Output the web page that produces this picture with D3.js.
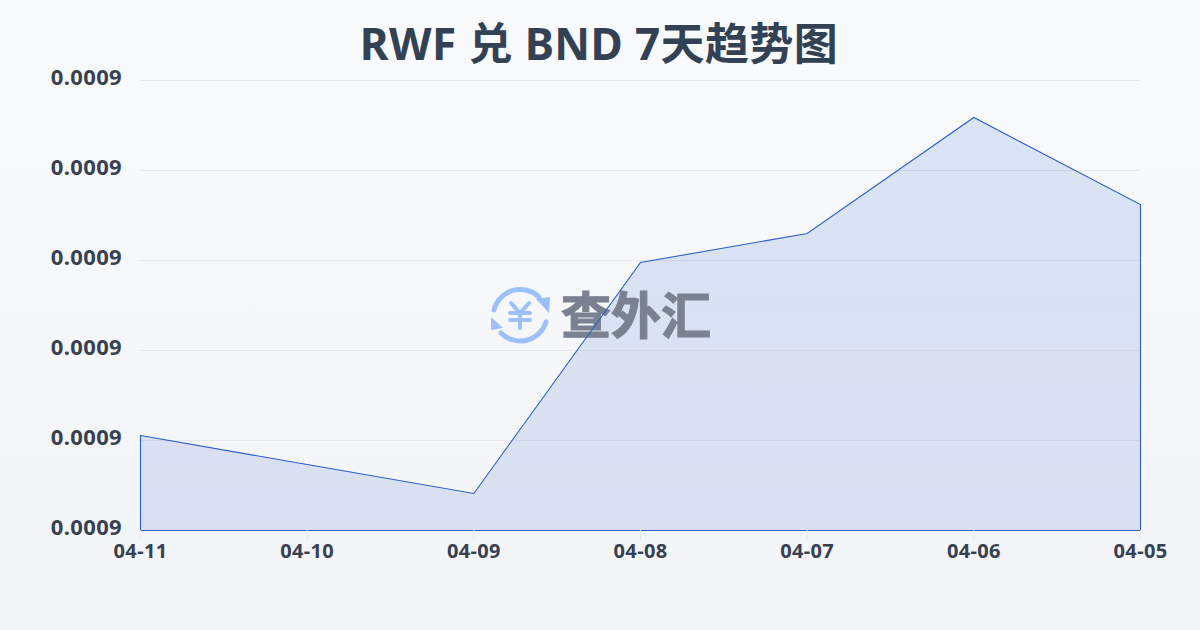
<!DOCTYPE html>
<html><head><meta charset="utf-8">
<script src="https://cdn.jsdelivr.net/npm/d3@7/dist/d3.min.js"></script>
<style>html,body{margin:0;padding:0;background:#f5f7fa}svg{display:block}</style>
</head><body><svg id="c" width="1200" height="630"></svg>
<script>
const dates = ["04-11","04-10","04-09","04-08","04-07","04-06","04-05"];
const rates = [0.0008795,0.0008766,0.0008737,0.0008968,0.0008997,0.0009113,0.0009026];
const yTicks = [0.000870,0.000879,0.000888,0.000897,0.000906,0.000915];
const titleText = "RWF 兑 BND 7天趋势图";
const brandText = "查外汇";

const svg = d3.select("#c");
const defs = svg.append("defs");
const bg = defs.append("linearGradient").attr("id","bg").attr("x1",0).attr("y1",0).attr("x2",0).attr("y2",1);
bg.append("stop").attr("offset",0).attr("stop-color","#f8fafc");
bg.append("stop").attr("offset",1).attr("stop-color","#f2f4f7");
svg.append("rect").attr("width",1200).attr("height",630).attr("fill","url(#bg)");

const x = d3.scalePoint().domain(dates).range([140,1140]);
const y = d3.scaleLinear().domain([yTicks[0],yTicks[yTicks.length-1]]).range([530,80]);
const font = "'Noto Sans','Noto Sans CJK SC',sans-serif";

// grid
svg.append("g").selectAll("line").data(yTicks.slice(1)).join("line")
  .attr("x1",140).attr("x2",1140).attr("y1",d=>Math.round(y(d))+.5).attr("y2",d=>Math.round(y(d))+.5)
  .attr("stroke","#e6e8ec").attr("stroke-width",1);

// area fill
const fillGrad = defs.append("linearGradient").attr("id","af").attr("x1",0).attr("y1",0).attr("x2",0).attr("y2",1);
fillGrad.append("stop").attr("offset",0).attr("stop-color","#2563c8").attr("stop-opacity",.14);
fillGrad.append("stop").attr("offset",1).attr("stop-color","#2a4fc0").attr("stop-opacity",.13);
const area = d3.area().x((d,i)=>x(dates[i])).y0(y(yTicks[0])).y1(d=>y(d));
svg.append("path").datum(rates).attr("d",area)
  .attr("transform","translate(.5,.5)")
  .attr("fill","url(#af)");

// watermark
const wm = svg.append("g");
const ic = wm.append("g").attr("transform","translate(520,315)").attr("fill","none").attr("stroke","#9cc0fb").attr("stroke-linecap","round");
ic.append("path").attr("d","M-26,-5 A27,27 0 0 1 19,-18").attr("stroke-width",5);
ic.append("path").attr("d","M26,7 A27,27 0 0 1 -19,18").attr("stroke-width",5);
ic.append("path").attr("d","M16,-16 L30,-18 L29,-2 Z").attr("fill","#9cc0fb").attr("stroke","none");
ic.append("path").attr("d","M-17,13 L-29,15 L-29,2 Z").attr("fill","#9cc0fb").attr("stroke","none");
ic.append("path").attr("d","M-9,-12 L0,-2 L9,-12 M0,-2 V13 M-10,-2 H10 M-10,5 H10").attr("stroke-width",4);
wm.append("text").attr("x",636).attr("y",334).attr("text-anchor","middle")
  .attr("font-family","'Noto Sans CJK SC',sans-serif").attr("font-weight",700).attr("font-size",50)
  .attr("fill","#7a8291").attr("stroke","#7a8291").attr("stroke-width",1.2).text(brandText);

// outline
svg.append("path").datum(rates).attr("d",area)
  .attr("transform","translate(.5,.5)")
  .attr("fill","none").attr("stroke","#2a5fc9").attr("stroke-width",1.1);

// axes
const yAxis = d3.axisLeft(y).tickValues(yTicks).tickSize(0).tickPadding(18).tickFormat(d3.format(".4f"));
const gy = svg.append("g").attr("transform","translate(140,-2)").call(yAxis);
gy.select(".domain").remove();
gy.selectAll("text").attr("font-family",font).attr("font-weight",700).attr("font-size",22).attr("letter-spacing",.35).attr("fill","#374151").attr("dy","0.3em");

const xAxis = d3.axisBottom(x).tickSize(10).tickPadding(4);
const gx = svg.append("g").attr("transform","translate(0,530)").call(xAxis);
gx.select(".domain").remove();
gx.selectAll("line").attr("stroke","#e6e8ec");
gx.selectAll("text").attr("font-family",font).attr("font-weight",700).attr("font-size",20).attr("letter-spacing",.35).attr("fill","#374151");

svg.append("text").attr("x",599).attr("y",60).attr("text-anchor","middle")
  .attr("font-family",font).attr("font-weight",700).attr("font-size",44).attr("letter-spacing",.4).attr("fill","#334155").text(titleText);
</script></body></html>
